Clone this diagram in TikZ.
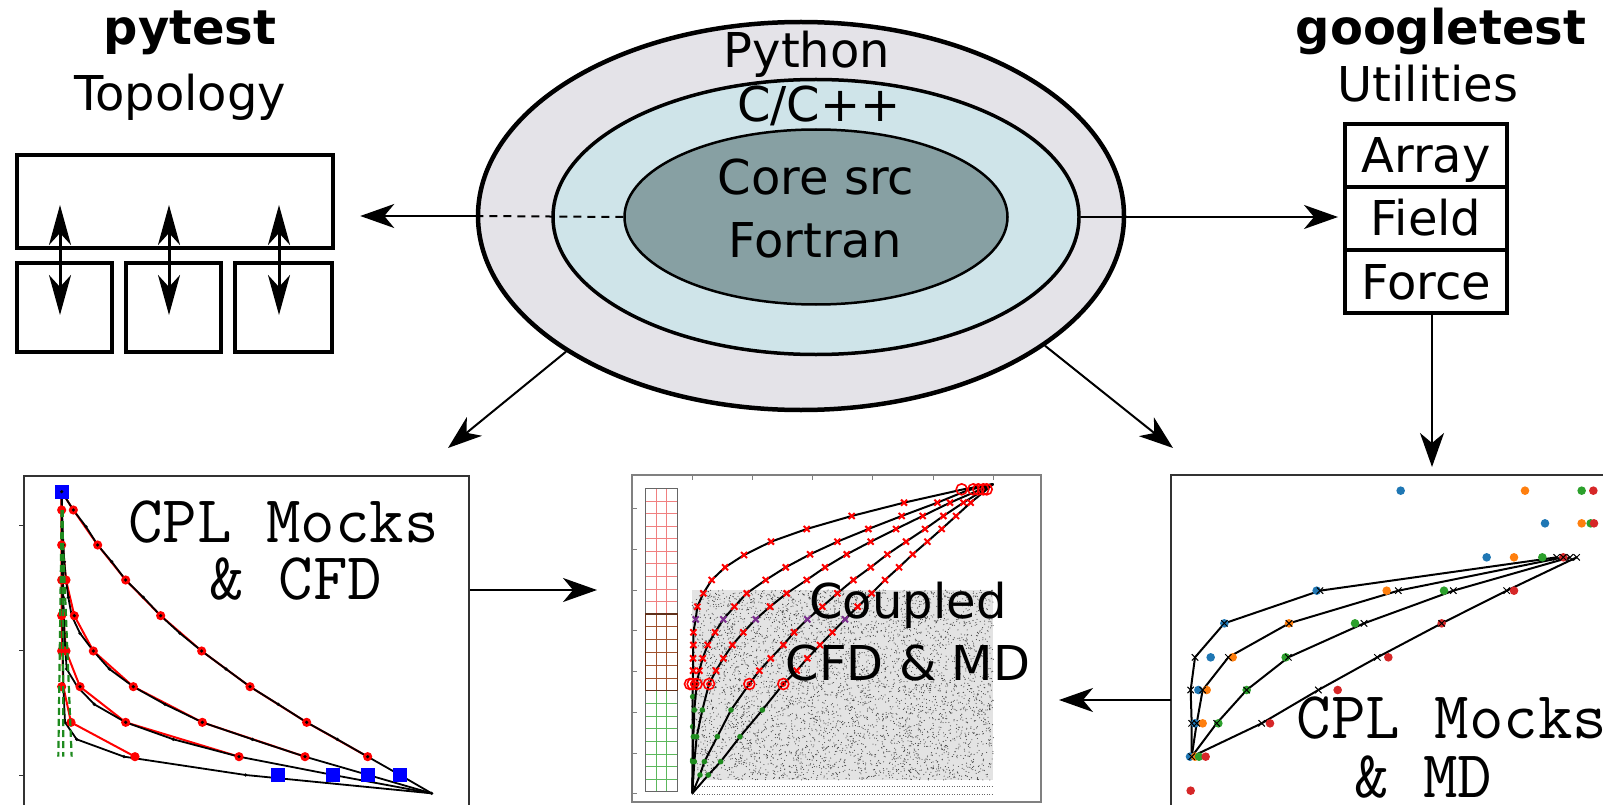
\documentclass[tikz,border=0pt]{standalone}
\usepackage{fontspec}
\setmainfont{DejaVu Sans}
\usetikzlibrary{arrows.meta,shapes.geometric}
\definecolor{outerc}{HTML}{E4E3E8}
\definecolor{midc}{HTML}{CFE4E9}
\definecolor{innerc}{HTML}{87A0A3}
\definecolor{tabblue}{HTML}{1F77B4}
\definecolor{taborange}{HTML}{FF7F0E}
\definecolor{tabgreen}{HTML}{2CA02C}
\definecolor{tabred}{HTML}{D62728}
\definecolor{mdpurple}{HTML}{7B2D8E}
\definecolor{mdgreen}{HTML}{1E8A1E}
\definecolor{framec}{HTML}{333333}
\definecolor{gridred}{HTML}{F08080}
\definecolor{gridbrown}{HTML}{A0522D}
\definecolor{gridgreen}{HTML}{5CB85C}
\definecolor{sqblue}{HTML}{0000FF}
\newcommand\fsbig{\fontsize{48}{58}\selectfont}
\newcommand\fsmono{\ttfamily\fontsize{67}{72}\selectfont}
\newcommand\mdcurve[1]{%
  \draw[mdline] (277,1000) \foreach \px/\py in {#1}{ -- (\px,\py)};
  \foreach \px/\py in {#1}{%
    \ifnum\py<100 \else
    \ifnum\py>990 \else
    \ifnum\py=478 \draw[mdpurple, line width=2pt] (\px,\py) +(-3pt,-3pt) -- +(3pt,3pt) +(-3pt,3pt) -- +(3pt,-3pt);\else
    \ifnum\py>680 \fill[mdgreen] (\px,\py) circle (2.8pt);\else
    \ifnum\py>660 \draw[red, line width=1.6pt] (\px,\py) circle (5.5pt) (\px,\py) circle (2pt);\else
    \draw[red, line width=2pt] (\px,\py) +(-3pt,-3pt) -- +(3pt,3pt) +(-3pt,3pt) -- +(3pt,-3pt);%
    \fi\fi\fi\fi\fi}}
\newcommand\mockcurve[1]{%
  \draw[mdline] (155,890) \foreach \px/\py in {#1}{ -- (\px,\py)};}
\begin{document}
\begin{tikzpicture}[x=1pt,y=-1pt,
  lbl/.style={font=\fsbig, anchor=base, inner sep=0pt},
  lblb/.style={font=\fsbig\bfseries, anchor=base, inner sep=0pt},
  mono/.style={font=\fsmono, anchor=base, inner sep=0pt},
  ring/.style={ellipse, draw, inner sep=0pt},
  tbox/.style={draw, line width=4.5pt, rectangle, inner sep=0pt},
  ubox/.style={draw, line width=4pt, minimum width=162pt, minimum height=63pt, font=\fsbig, text height=35pt, text depth=0pt, inner sep=0pt},
  conn/.style={line width=2pt, -{Stealth[length=34pt,width=24pt,inset=10pt]}},
  dbl/.style={line width=3pt, {Stealth[length=40pt,width=22pt,inset=12pt]}-{Stealth[length=40pt,width=22pt,inset=12pt]}},
  pframe/.style={draw=framec, line width=2pt, inner sep=0pt},
  mdline/.style={black, line width=2pt, line join=round},
  kline/.style={black, line width=1.8pt, line join=round},
  rline/.style={red, line width=2pt, line join=round}]
\useasboundingbox (0,0) rectangle (1603,805);
\fill[white] (0,0) rectangle (1603,805);

% ---------- central ellipses ----------
\node[ring, fill=outerc, line width=4.5pt, minimum width=646pt, minimum height=388pt] (outer) at (801,216) {};
\node[ring, fill=midc, line width=3.5pt, minimum width=526pt, minimum height=275pt] (middle) at (816,217) {};
\node[ring, fill=innerc, line width=2.5pt, minimum width=383pt, minimum height=175pt] (inner) at (816,217) {};
\node[lbl] (tpy) at (807,68) {Python};
\node[lbl] (tcc) at (819,122) {C/C++};
\node[lbl] (tcore) at (816,195) {Core src};
\node[lbl] (tfor) at (815,257) {Fortran};

% ---------- pytest / topology ----------
\node[lblb] (tpytest) at (190,45) {pytest};
\node[lbl] (ttopo) at (180,111) {Topology};
\node[tbox, minimum width=316pt, minimum height=93pt] (topo) at (175,201.5) {};
\node[tbox, minimum width=95pt, minimum height=89pt] (s1) at (64.5,307.5) {};
\node[tbox, minimum width=95pt, minimum height=89pt] (s2) at (173.5,307.5) {};
\node[tbox, minimum width=97pt, minimum height=89pt] (s3) at (283.5,307.5) {};
\coordinate (d1a) at (60,205); \coordinate (d1b) at (60,315);
\coordinate (d2a) at (169,205); \coordinate (d2b) at (169,315);
\coordinate (d3a) at (279,205); \coordinate (d3b) at (279,315);
\draw[dbl] (d1a) -- (d1b);
\draw[dbl] (d2a) -- (d2b);
\draw[dbl] (d3a) -- (d3b);

% ---------- googletest / utilities ----------
\node[lblb] (tgoogle) at (1441,45) {googletest};
\node[lbl] (tutil) at (1428,102) {Utilities};
\node[ubox] (array) at (1426,155.5) {Array};
\node[ubox] (field) at (1426,218.5) {Field};
\node[ubox] (force) at (1426,281.5) {Force};

% ---------- plot frames ----------
\node[pframe, minimum width=445pt, minimum height=364pt] (plotL) at (246.5,658) {};
\node[pframe, draw=gray, minimum width=409pt, minimum height=327pt] (plotM) at (836.5,638.5) {};
\node[pframe, minimum width=529pt, minimum height=365pt] (plotR) at (1435.5,657.5) {};

% ---------- connectors ----------
\draw[line width=2pt, dash pattern=on 8pt off 6pt] (inner.west) -- (outer.west);
\draw[conn, shorten >=25pt] (outer.west) -- (outer.west -| topo.east);
\draw[conn, shorten >=5pt] (middle.east) -- (middle.east -| field.west);
\coordinate (tipL) at (448,448);
\coordinate (tipR) at (1173,448);
\draw[conn] (outer.210) -- (tipL);
\draw[conn] (outer.-28) -- (tipR);
\coordinate (tipF) at (1432,467);
\draw[conn] (force.south -| tipF) -- (tipF);
\coordinate (aLM) at (470,590);
\draw[conn, shorten >=34pt] (aLM) -- (aLM -| plotM.west);
\coordinate (aRM) at (1171,700);
\draw[conn, shorten >=17pt] (aRM) -- (aRM -| plotM.east);

% ---------- left plot: CPL Mocks & CFD ----------
\begin{scope}[shift={(0,460)}, x=0.33333pt, y=-0.33333pt]
  \foreach \ty in {195,570,945} \draw[framec, line width=1pt] (58,\ty) -- (72,\ty);
  \draw[rline] (185,95) -- (220,150) -- (293,255) -- (377,360) -- (482,467) -- (605,573) -- (750,680) -- (920,787) -- (1103,890);
  \draw[rline] (185,95) -- (185,150) -- (188,255) -- (198,360) -- (223,467) -- (280,573) -- (400,680) -- (607,787) -- (915,890);
  \draw[rline] (185,95) -- (185,360) -- (190,467) -- (198,573) -- (240,680) -- (377,787) -- (717,890);
  \draw[rline] (185,95) -- (185,467) -- (187,573) -- (190,680) -- (213,787) -- (405,890);
  \draw[kline] plot coordinates {(185,95) (220,150) (258,200) (293,255) (335,305) (377,360) (430,412) (482,467) (540,520) (605,573) (678,627) (750,680) (835,733) (920,787) (1012,838) (1103,890) (1200,945) (1295,1000)};
  \draw[kline] plot coordinates {(185,95) (186,150) (188,200) (190,255) (193,305) (198,360) (205,412) (215,467) (240,520) (280,573) (328,627) (400,680) (495,733) (607,787) (757,838) (915,890) (1105,945) (1295,1000)};
  \draw[kline] plot coordinates {(185,95) (186,200) (188,305) (190,412) (193,520) (200,627) (232,680) (283,733) (377,787) (520,838) (717,890) (1000,945) (1295,1000)};
  \draw[kline] plot coordinates {(185,95) (186,300) (188,520) (190,680) (195,787) (230,838) (372,890) (737,945) (1295,1000)};
  \foreach \px/\py in {185/150,220/150,185/255,293/255,185/360,198/360,377/360,185/467,223/467,482/467,185/573,198/573,280/573,605/573,185/680,240/680,400/680,750/680,213/787,377/787,607/787,920/787,405/890,717/890,915/890,1103/890}
    \fill[red] (\px,\py) circle (4.6pt);
  \foreach \px/\py in {258/200,335/305,430/412,540/520,678/627,835/733,1012/838,1200/945,1295/1000,186/200,190/255,193/305,205/412,240/520,328/627,495/733,757/838,1105/945,188/305,190/412,193/520,200/627,283/733,520/838,195/787,230/838,372/890,737/945,220/150,293/255,377/360,482/467,605/573,750/680,920/787,1103/890,223/467,280/573,400/680,607/787,915/890,240/680,377/787,717/890}
    \fill[black] (\px,\py) circle (1.8pt);
  \draw[mdgreen, line width=2.2pt, dash pattern=on 7pt off 4pt] (185,150) -- (175,890);
  \draw[mdgreen, line width=2.2pt, dash pattern=on 7pt off 4pt] (185,150) -- (215,890);
  \draw[mdgreen, line width=2.2pt, dash pattern=on 7pt off 4pt] (188,150) -- (190,890);
  \foreach \px/\py in {185/95,833/945,1000/945,1105/945,1200/945}
    \fill[sqblue] (\px,\py) +(-7pt,-7pt) rectangle +(7pt,7pt);
  \fill[black] (185,95) circle (1.8pt);
\end{scope}
\node[mono] (lcpl) at (283.5,542) {CPL Mocks};
\node[mono] (lcfd) at (296,599) {\& CFD};

% ---------- middle plot: coupled ----------
\begin{scope}[shift={(600,460)}, x=0.33333pt, y=-0.33333pt]
  \fill[black!11] (275,390) rectangle (1180,960);
  \pgfmathsetseed{7}
  \foreach \i in {1,...,5000}
    \fill[black!75] ({275+905*rnd},{390+570*rnd}) circle (0.55pt);
  \draw[black!60, line width=0.9pt, dash pattern=on 1pt off 1.5pt] (275,980) -- (1180,980);
  \draw[black!60, line width=0.9pt, dash pattern=on 1pt off 1.5pt] (275,1002) -- (1180,1002);
  \foreach \tx in {277,457,637,817,1000,1180} \draw[gray, line width=1pt] (\tx,45) -- (\tx,60);
  \foreach \ty in {145,268,392,512,635,757,880,1000} \draw[gray, line width=1pt] (95,\ty) -- (110,\ty);
  % grid column
  \foreach \gx in {168,200} {
    \draw[gridred, line width=0.6pt] (\gx,85) -- (\gx,462);
    \draw[gridbrown, line width=0.6pt] (\gx,462) -- (\gx,692);
    \draw[gridgreen, line width=0.6pt] (\gx,692) -- (\gx,995);}
  \foreach \i in {1,...,9} \draw[gridred, line width=0.6pt] (137,{85+37.7*\i}) -- (232,{85+37.7*\i});
  \foreach \i in {1,...,5} \draw[gridbrown, line width=0.6pt] (137,{462+38.3*\i}) -- (232,{462+38.3*\i});
  \foreach \i in {1,...,7} \draw[gridgreen, line width=0.6pt] (137,{692+37.9*\i}) -- (232,{692+37.9*\i});
  \draw[black!60, line width=0.9pt] (137,85) rectangle (232,995);
  \draw[gridbrown!60!black, line width=1.4pt] (137,462) rectangle (232,692);
  % curves
  \mdcurve{278/900,278/800,278/710,278/672,279/632,279/595,280/555,280/517,287/478,292/440,310/400,335/360,375/322,432/285,513/245,620/207,755/168,912/128,1090/88,1180/72}
  \mdcurve{278/905,280/830,283/750,290/672,298/632,308/595,323/555,345/517,370/478,403/440,440/400,497/360,557/322,630/283,712/245,805/207,905/168,1012/128,1100/92,1180/72}
  \mdcurve{283/905,290/830,307/750,327/672,348/632,370/595,397/555,430/517,467/478,510/440,560/400,620/360,675/322,740/283,812/245,888/207,968/168,1050/128,1180/72}
  \mdcurve{300/945,313/905,352/830,393/750,448/672,478/632,512/595,550/555,582/517,622/478,667/440,712/400,760/360,812/322,862/283,918/245,975/207,1030/168,1090/128,1180/72}
  \mdcurve{325/945,362/905,420/830,487/750,550/672,590/632,622/595,660/555,697/517,735/478,773/440,815/400,855/360,897/322,938/283,982/245,1025/207,1068/168,1112/128,1180/72}
  \draw[red, line width=1.6pt] (270,672) circle (5.5pt);
  \foreach \cx in {1085,1120,1135,1150,1160} \draw[red, line width=1.6pt] (\cx,88) circle (5.5pt);
\end{scope}
\node[lbl] (tcoup) at (908,618) {Coupled};
\node[lbl] (tcfdmd) at (908,680) {CFD \& MD};

% ---------- right plot: CPL Mocks & MD ----------
\begin{scope}[shift={(1140,460)}, x=0.33333pt, y=-0.33333pt]
  \mockcurve{155/790,152/690,165/592,253/490,540/392,1250/292}
  \mockcurve{170/790,188/690,265/592,447/490,775/392,1270/292}
  \mockcurve{230/790,320/690,445/592,672/490,940/392,1290/292}
  \mockcurve{365/790,535/690,712/592,905/490,1100/392,1310/292}
  \foreach \px/\py in {782/92,1215/190,1040/292,530/392,253/490,212/592,175/690,165/790,150/890}
    \fill[tabblue] (\px,\py) circle (4.3pt);
  \foreach \px/\py in {1155/92,1325/190,1122/292,740/392,447/490,278/592,200/690,188/790,165/890}
    \fill[taborange] (\px,\py) circle (4.3pt);
  \foreach \px/\py in {1325/92,1352/190,1207/292,912/392,645/490,437/592,320/690,235/790,177/890}
    \fill[tabgreen] (\px,\py) circle (4.3pt);
  \foreach \px/\py in {1360/92,1362/190,1270/292,1122/392,905/490,745/592,593/690,390/790,197/890,152/992}
    \fill[tabred] (\px,\py) circle (4.3pt);
  \foreach \px/\py in {155/890,155/790,152/690,165/592,253/490,540/392,1250/292,170/790,188/690,265/592,447/490,775/392,1270/292,230/790,320/690,445/592,672/490,940/392,1290/292,365/790,535/690,712/592,905/490,1100/392,1310/292}
    \draw[black, line width=1pt] (\px,\py) +(-3.2pt,-3.2pt) -- +(3.2pt,3.2pt) +(-3.2pt,3.2pt) -- +(3.2pt,-3.2pt);
\end{scope}
\node[mono] (rcpl) at (1452,738) {CPL Mocks};
\node[mono] (rmd) at (1423,797) {\& MD};
\end{tikzpicture}
\end{document}
